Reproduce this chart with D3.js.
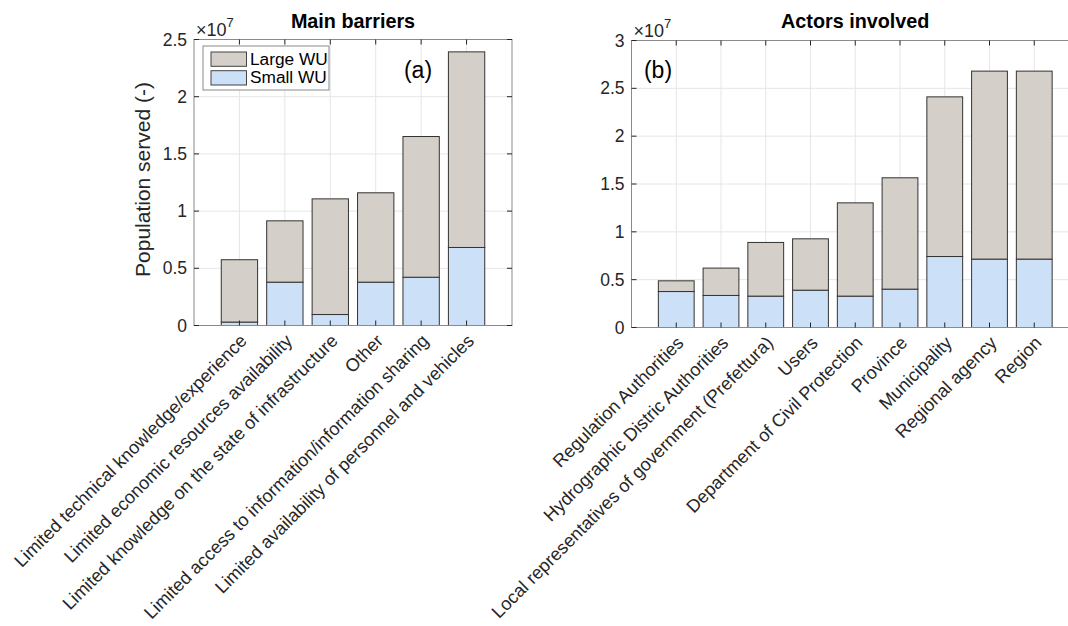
<!DOCTYPE html>
<html>
<head>
<meta charset="utf-8">
<script src="https://cdn.jsdelivr.net/npm/d3@7"></script>
<style>
  html, body { margin: 0; padding: 0; background: #fff; }
  svg { display: block; font-family: "Liberation Sans", Arial, sans-serif; }
</style>
</head>
<body>
<svg id="chart" width="1068" height="626"></svg>
<script>
// ---- data -------------------------------------------------------------
const barrierCategories = [
  "Limited technical knowledge/experience",
  "Limited economic resources availability",
  "Limited knowledge on the state of infrastructure",
  "Other",
  "Limited access to information/information sharing",
  "Limited availability of personnel and vehicles"
];
const barrierSmallWU = [0.30e6, 3.79e6, 0.96e6, 3.79e6, 4.22e6, 6.82e6];
const barrierLargeWU = [5.45e6, 5.36e6, 10.11e6, 7.81e6, 12.30e6, 17.10e6];

const actorCategories = [
  "Regulation Authorities",
  "Hydrographic Distric Authorities",
  "Local representatives of government (Prefettura)",
  "Users",
  "Department of Civil Protection",
  "Province",
  "Municipality",
  "Regional agency",
  "Region"
];
const actorSmallWU = [3.76e6, 3.35e6, 3.28e6, 3.90e6, 3.28e6, 4.01e6, 7.42e6, 7.15e6, 7.15e6];
const actorLargeWU = [1.12e6, 2.86e6, 5.61e6, 5.37e6, 9.75e6, 11.64e6, 16.69e6, 19.65e6, 19.65e6];

const barrierTicks = [0, 0.5e7, 1e7, 1.5e7, 2e7, 2.5e7];
const actorTicks = [0, 0.5e7, 1e7, 1.5e7, 2e7, 2.5e7, 3e7];

const seriesNames = ["Small WU", "Large WU"];
const seriesColors = { "Small WU": "#cce0f7", "Large WU": "#d4cfc8" };

// ---- drawing ------------------------------------------------------------
const svg = d3.select("#chart");
const AXIS = "#262626";
const BOX = "#8a8a8a";
const GRID = "#e6e6e6";

function drawPanel(opt) {
  const { cats, small, large, ticks, yMax, left, right, top, bottom,
          title, tag, tagX, showYLabel, legend } = opt;
  const g = svg.append("g");

  // categorical positions 1..n inside xlim [0, n+1]
  const x = d3.scaleLinear().domain([0, cats.length + 1]).range([left, right]);
  const y = d3.scaleLinear().domain([0, yMax]).range([bottom, top]);
  const step = x(1) - x(0);
  const barW = step * 0.8;

  // grid
  g.append("g").selectAll("line").data(ticks).join("line")
    .attr("x1", left).attr("x2", right)
    .attr("y1", d => y(d)).attr("y2", d => y(d))
    .attr("stroke", GRID).attr("stroke-width", 1);
  g.append("g").selectAll("line").data(cats).join("line")
    .attr("x1", (d, i) => x(i + 1)).attr("x2", (d, i) => x(i + 1))
    .attr("y1", top).attr("y2", bottom)
    .attr("stroke", GRID).attr("stroke-width", 1);

  // stacked bars
  const rows = cats.map((c, i) => ({ idx: i, "Small WU": small[i], "Large WU": large[i] }));
  const stacked = d3.stack().keys(seriesNames)(rows);
  g.append("g").selectAll("g").data(stacked).join("g")
    .attr("fill", d => seriesColors[d.key])
    .selectAll("rect").data(d => d).join("rect")
    .attr("x", d => x(d.data.idx + 1) - barW / 2)
    .attr("width", barW)
    .attr("y", d => y(d[1]))
    .attr("height", d => y(d[0]) - y(d[1]))
    .attr("stroke", "#333")
    .attr("stroke-width", 1);

  // box
  g.append("rect")
    .attr("x", left).attr("y", top)
    .attr("width", right - left).attr("height", bottom - top)
    .attr("fill", "none").attr("stroke", BOX).attr("stroke-width", 1);

  // y ticks (left + right, inward)
  const tl = 5;
  g.append("g").selectAll("line").data(ticks).join("line")
    .attr("x1", left).attr("x2", left + tl)
    .attr("y1", d => y(d)).attr("y2", d => y(d))
    .attr("stroke", AXIS);
  g.append("g").selectAll("line").data(ticks).join("line")
    .attr("x1", right).attr("x2", right - tl)
    .attr("y1", d => y(d)).attr("y2", d => y(d))
    .attr("stroke", AXIS);
  // x ticks (bottom + top, inward)
  g.append("g").selectAll("line").data(cats).join("line")
    .attr("x1", (d, i) => x(i + 1)).attr("x2", (d, i) => x(i + 1))
    .attr("y1", bottom).attr("y2", bottom - tl).attr("stroke", AXIS);
  g.append("g").selectAll("line").data(cats).join("line")
    .attr("x1", (d, i) => x(i + 1)).attr("x2", (d, i) => x(i + 1))
    .attr("y1", top).attr("y2", top + tl).attr("stroke", AXIS);

  // y tick labels (scaled by 1e7)
  const fmt = d3.format("~g");
  g.append("g").selectAll("text").data(ticks).join("text")
    .attr("x", left - 7).attr("y", d => y(d))
    .attr("dy", "0.35em")
    .attr("text-anchor", "end")
    .attr("font-size", 17.5).attr("fill", AXIS)
    .text(d => fmt(d / 1e7));

  // exponent label
  const ex = g.append("text")
    .attr("x", left + 2).attr("y", top - 4)
    .attr("font-size", 18).attr("fill", AXIS);
  ex.append("tspan").text("\u00d710");
  ex.append("tspan").attr("font-size", 13).attr("dy", -9).text("7");

  // x tick labels rotated 45°
  g.append("g").selectAll("text").data(cats).join("text")
    .attr("transform", (d, i) => `translate(${x(i + 1) + 4},${bottom + 12}) rotate(-45)`)
    .attr("text-anchor", "end")
    .attr("dy", "0.35em")
    .attr("font-size", 18.1).attr("fill", AXIS)
    .text(d => d);

  // title
  g.append("text")
    .attr("x", (left + right) / 2).attr("y", 28)
    .attr("text-anchor", "middle")
    .attr("font-size", 19.8).attr("font-weight", "bold").attr("fill", "#000")
    .text(title);

  // panel tag
  g.append("text")
    .attr("x", tagX).attr("y", 78)
    .attr("text-anchor", "middle")
    .attr("font-size", 23).attr("fill", "#000")
    .text(tag);

  if (showYLabel) {
    g.append("text")
      .attr("transform", `translate(${left - 44},${(top + bottom) / 2 - 3}) rotate(-90)`)
      .attr("text-anchor", "middle")
      .attr("font-size", 21).attr("fill", AXIS)
      .text("Population served (-)");
  }

  if (legend) {
    const lg = g.append("g");
    lg.append("rect")
      .attr("x", 203).attr("y", 46).attr("width", 126).attr("height", 44)
      .attr("fill", "#fff").attr("stroke", BOX).attr("stroke-width", 1);
    const items = ["Large WU", "Small WU"];
    items.forEach((name, k) => {
      lg.append("rect")
        .attr("x", 211).attr("y", 52 + k * 18.7)
        .attr("width", 35.5).attr("height", 14.3)
        .attr("fill", seriesColors[name])
        .attr("stroke", "#444").attr("stroke-width", 1);
      lg.append("text")
        .attr("x", 250).attr("y", 64.5 + k * 18.7)
        .attr("font-size", 17.3).attr("fill", "#000")
        .text(name);
    });
  }
}

drawPanel({
  cats: barrierCategories, small: barrierSmallWU, large: barrierLargeWU,
  ticks: barrierTicks, yMax: 2.5e7,
  left: 194, right: 512, top: 39.5, bottom: 325.5,
  title: "Main barriers", tag: "(a)", tagX: 418, showYLabel: true, legend: true
});

drawPanel({
  cats: actorCategories, small: actorSmallWU, large: actorLargeWU,
  ticks: actorTicks, yMax: 3e7,
  left: 631.5, right: 1079, top: 40.5, bottom: 327.5,
  title: "Actors involved", tag: "(b)", tagX: 658, showYLabel: false, legend: false
});
</script>
</body>
</html>
